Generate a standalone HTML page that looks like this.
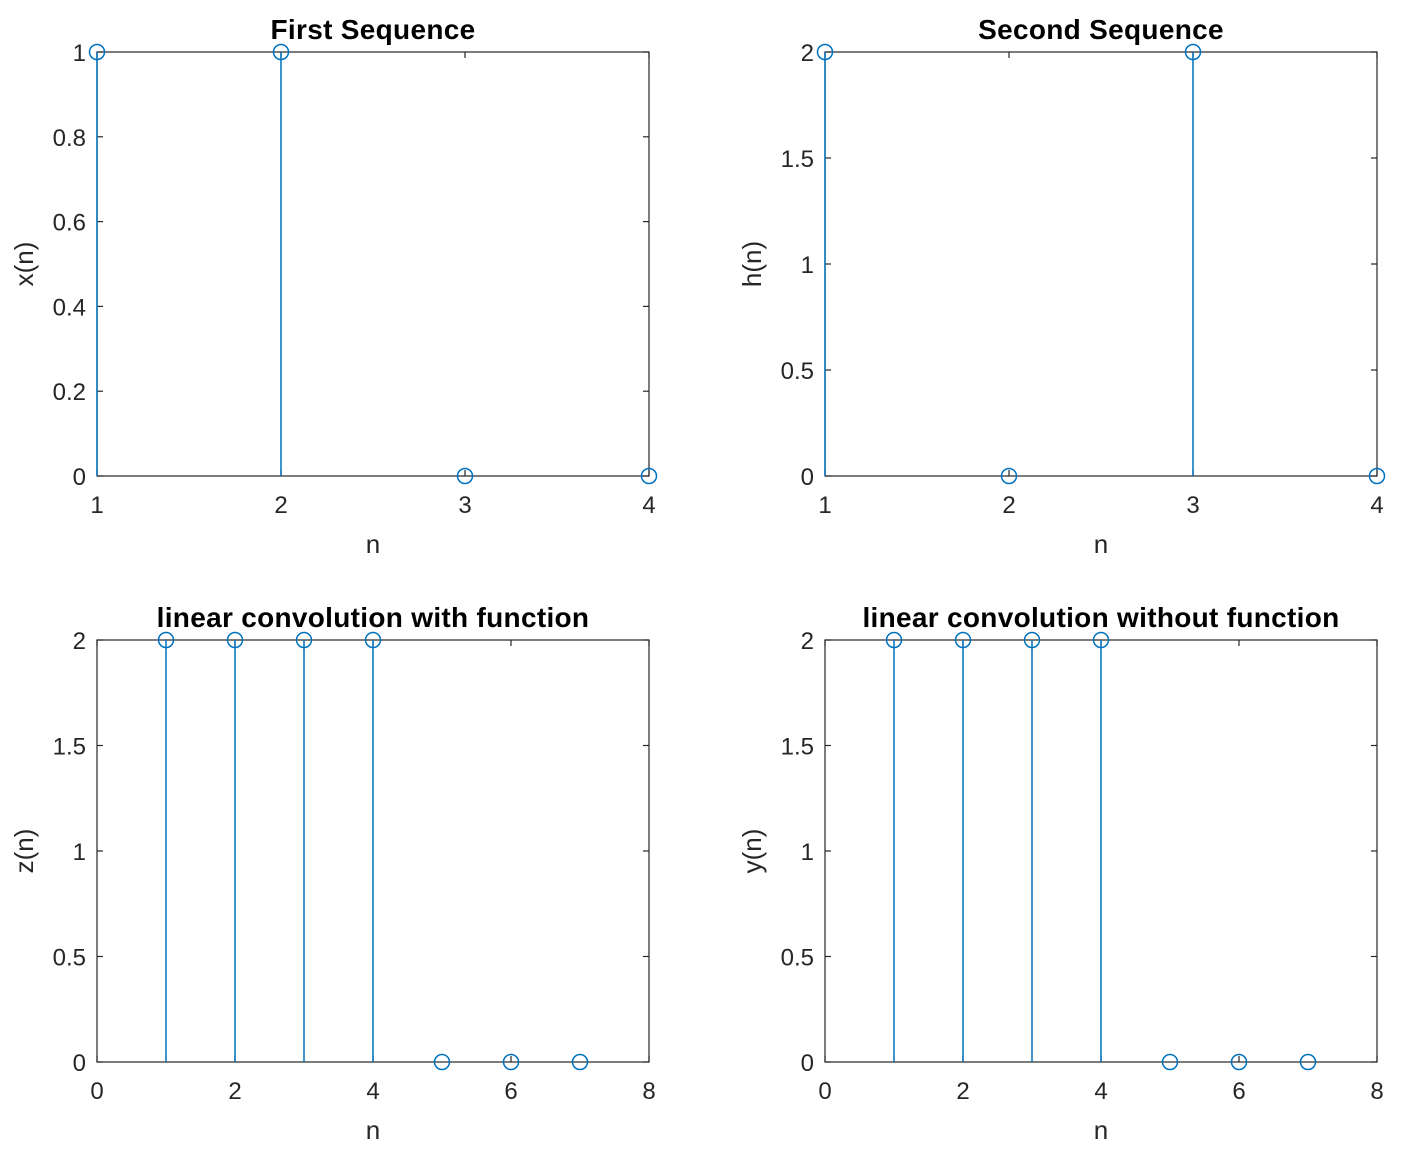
<!DOCTYPE html>
<html><head><meta charset="utf-8"><style>
body{margin:0;background:#fff;}
svg{display:block;font-family:"Liberation Sans",Arial,sans-serif;}
</style></head><body>
<svg id="fig" width="1410" height="1152" xmlns="http://www.w3.org/2000/svg"></svg>
<script>
const xVals=[1,1,0,0];
const xN=[1,2,3,4];
const hVals=[2,0,2,0];
const hN=[1,2,3,4];
const zVals=[2,2,2,2,0,0,0];
const zN=[1,2,3,4,5,6,7];
const yVals=[2,2,2,2,0,0,0];
const yN=[1,2,3,4,5,6,7];
const xTicks14=[1,2,3,4];
const xTicks08=[0,2,4,6,8];
const yTicks1=[0,0.2,0.4,0.6,0.8,1];
const yTicks2=[0,0.5,1,1.5,2];

const NS="http://www.w3.org/2000/svg";
const svg=document.getElementById('fig');
function el(t,a,p){const e=document.createElementNS(NS,t);for(const k in a)e.setAttribute(k,a[k]);(p||svg).appendChild(e);return e;}

function panel(o){
  const g=el('g',{});
  
  
  const L=o.x0,R=o.x1,T=o.y0,B=o.y1;
  const sx=v=>L+(v-o.xmin)/(o.xmax-o.xmin)*(R-L);
  const sy=v=>B-(v-o.ymin)/(o.ymax-o.ymin)*(B-T);
  const box=el('rect',{x:L,y:T,width:R-L,height:B-T,fill:'none',stroke:'#262626','stroke-width':1.2},g);
  
  
  o.xt.forEach(v=>{
    const X=sx(v);
    el('line',{x1:X,y1:B,x2:X,y2:B-6,stroke:'#262626','stroke-width':1.2},g);
    el('line',{x1:X,y1:T,x2:X,y2:T+6,stroke:'#262626','stroke-width':1.2},g);
    const t=el('text',{x:X,y:B+37,'text-anchor':'middle','font-size':24,fill:'#262626'},g);
    t.textContent=String(v);
    
    
  });
  o.yt.forEach(v=>{
    const Y=sy(v);
    el('line',{x1:L,y1:Y,x2:L+6,y2:Y,stroke:'#262626','stroke-width':1.2},g);
    el('line',{x1:R,y1:Y,x2:R-6,y2:Y,stroke:'#262626','stroke-width':1.2},g);
    const t=el('text',{x:L-11,y:Y+9,'text-anchor':'end','font-size':24,fill:'#262626'},g);
    t.textContent=String(v);
    
    
  });
  const ti=el('text',{x:(L+R)/2,y:T-13,'text-anchor':'middle','font-size':28,'font-weight':'bold',fill:'#000','letter-spacing':'0.3'},g);
  ti.textContent=o.title;
  
  
  const xl=el('text',{x:(L+R)/2,y:B+77,'text-anchor':'middle','font-size':26,fill:'#262626'},g);
  xl.textContent='n';
  
  
  const yl=el('text',{x:0,y:0,'text-anchor':'middle','font-size':26,fill:'#262626',transform:`translate(${L-64},${(T+B)/2}) rotate(-90)`},g);
  yl.textContent=o.ylabel;
  
  
  o.n.forEach((nv,i)=>{
    const X=sx(nv),Y=sy(o.v[i]),Y0=sy(0);
    const s=el('line',{x1:X,y1:Y0,x2:X,y2:Y,stroke:'#0072BD','stroke-width':1.5},g);
    
    
    const c=el('circle',{cx:X,cy:Y,r:7.5,fill:'none',stroke:'#0072BD','stroke-width':1.5},g);
    
    
  });
}
panel({name:'first-sequence-plot',x0:97,x1:649,y0:52,y1:476,xmin:1,xmax:4,ymin:0,ymax:1,xt:xTicks14,yt:yTicks1,title:'First Sequence',ylabel:'x(n)',n:xN,v:xVals});
panel({name:'second-sequence-plot',x0:825,x1:1377,y0:52,y1:476,xmin:1,xmax:4,ymin:0,ymax:2,xt:xTicks14,yt:yTicks2,title:'Second Sequence',ylabel:'h(n)',n:hN,v:hVals});
panel({name:'conv-with-function-plot',x0:97,x1:649,y0:640,y1:1062,xmin:0,xmax:8,ymin:0,ymax:2,xt:xTicks08,yt:yTicks2,title:'linear convolution with function',ylabel:'z(n)',n:zN,v:zVals});
panel({name:'conv-without-function-plot',x0:825,x1:1377,y0:640,y1:1062,xmin:0,xmax:8,ymin:0,ymax:2,xt:xTicks08,yt:yTicks2,title:'linear convolution without function',ylabel:'y(n)',n:yN,v:yVals});
</script>
</body></html>
